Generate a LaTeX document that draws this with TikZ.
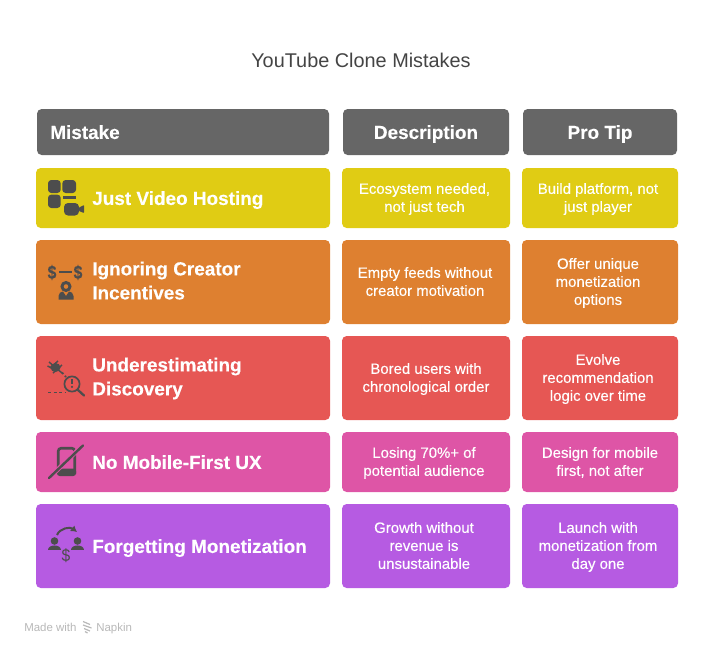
\documentclass[tikz,border=0pt]{standalone}
\usepackage{fontspec}
\setmainfont[BoldFeatures={FakeBold=0.2}]{Liberation Sans}
\newfontfamily\medfont[FakeBold=0.25]{Liberation Sans}
\usetikzlibrary{arrows.meta}
\definecolor{cHead}{HTML}{666666}
\definecolor{cYel}{HTML}{E0CC14}
\definecolor{cOra}{HTML}{DE8030}
\definecolor{cRed}{HTML}{E65754}
\definecolor{cPin}{HTML}{DE55A6}
\definecolor{cPur}{HTML}{B65BE2}
\definecolor{cIco}{HTML}{4D4D4D}
\definecolor{cFoot}{HTML}{B8B8B8}
\definecolor{cTitle}{HTML}{444444}
\def\pxu{0.75pt}
\newcommand{\cellbox}[6]{% name x0 y0 x1 y1 colour
  \node[cellshape,fill=#6,minimum width={(#4-#2)*\pxu},minimum height={(#5-#3)*\pxu}] (#1) at ({(#2+#4)/2},{(#3+#5)/2}) {};}
\newcommand{\dollar}[4]{% name x y size
  \node[text=cIco,font=\fontsize{#4}{#4}\selectfont\bfseries,inner sep=0pt] (#1) at (#2,#3) {\scalebox{.85}[1]{\$}};}
\tikzset{
  cellshape/.style={rectangle,rounded corners=3.5pt,inner sep=0pt,draw=none},
  struts/.style={execute at begin node=\strut,execute at end node=\strut,yshift=-1.6pt},
  headtext/.style={struts,text=white,font=\fontsize{14.2}{18}\selectfont\bfseries,inner sep=0pt},
  rowtitle/.style={struts,text=white,font=\fontsize{14.2}{18}\selectfont\bfseries,inner sep=0pt,anchor=west,align=left},
  celltext/.style={struts,text=white,font=\fontsize{11.2}{13.5}\selectfont\medfont,inner sep=0pt,align=center},
  icon/.style={fill=cIco,draw=none},
  iconline/.style={draw=cIco,line width=1.5pt,fill=none},
}
\begin{document}
\begin{tikzpicture}[x=0.75pt,y=-0.75pt]
\useasboundingbox (0,0) rectangle (722,654);
\node[struts,text=cTitle,font=\fontsize{14.9}{18}\selectfont,inner sep=0pt,yshift=-0.5pt] (title) at (361,60) {YouTube Clone Mistakes};
% header
\cellbox{h1}{37}{109}{329}{155}{cHead}
\cellbox{h2}{343}{109}{509}{155}{cHead}
\cellbox{h3}{523}{109}{677}{155}{cHead}
\node[headtext,anchor=west] (h1t) at (50,132) {Mistake};
\node[headtext] (h2t) at (426,132) {Description};
\node[headtext] (h3t) at (600,132) {Pro Tip};
% rows
\cellbox{a1}{36}{168}{330}{228}{cYel}
\cellbox{b1}{342}{168}{510}{228}{cYel}
\cellbox{c1}{522}{168}{678}{228}{cYel}
\cellbox{a2}{36}{240}{330}{324}{cOra}
\cellbox{b2}{342}{240}{510}{324}{cOra}
\cellbox{c2}{522}{240}{678}{324}{cOra}
\cellbox{a3}{36}{336}{330}{420}{cRed}
\cellbox{b3}{342}{336}{510}{420}{cRed}
\cellbox{c3}{522}{336}{678}{420}{cRed}
\cellbox{a4}{36}{432}{330}{492}{cPin}
\cellbox{b4}{342}{432}{510}{492}{cPin}
\cellbox{c4}{522}{432}{678}{492}{cPin}
\cellbox{a5}{36}{504}{330}{588}{cPur}
\cellbox{b5}{342}{504}{510}{588}{cPur}
\cellbox{c5}{522}{504}{678}{588}{cPur}
% titles
\node[rowtitle] (a1t) at (92,198) {Just Video Hosting};
\node[rowtitle] (a2t) at (92,282) {Ignoring Creator\\Incentives};
\node[rowtitle] (a3t) at (92,378) {Underestimating\\Discovery};
\node[rowtitle] (a4t) at (92,462) {No Mobile-First UX};
\node[rowtitle] (a5t) at (92,546) {Forgetting Monetization};
% descriptions
\node[celltext] (b1t) at (424.5,198) {Ecosystem needed,\\not just tech};
\node[celltext] (c1t) at (598,198) {Build platform, not\\just player};
\node[celltext] (b2t) at (425,282) {Empty feeds without\\creator motivation};
\node[celltext] (c2t) at (598,282) {Offer unique\\monetization\\options};
\node[celltext] (b3t) at (426,378) {Bored users with\\chronological order};
\node[celltext] (c3t) at (598,378) {Evolve\\recommendation\\logic over time};
\node[celltext] (b4t) at (424,462) {Losing 70\%+ of\\potential audience};
\node[celltext] (c4t) at (600,462) {Design for mobile\\first, not after};
\node[celltext] (b5t) at (424,546) {Growth without\\revenue is\\unsustainable};
\node[celltext] (c5t) at (598,546) {Launch with\\monetization from\\day one};
% icon 1: grid + camera
\fill[icon,rounded corners=2.5pt] (48,180) -- (60.7,180) -- (60.7,193) -- (48,193) -- cycle;
\fill[icon,rounded corners=2.5pt] (62.3,180) -- (76,180) -- (76,193) -- (62.3,193) -- cycle;
\fill[icon,rounded corners=2.5pt] (48,194.6) -- (60.7,194.6) -- (60.7,208) -- (48,208) -- cycle;
\fill[icon] (63,196) rectangle (76,199);
\fill[icon,rounded corners=3pt] (64,203) rectangle (79,215.5);
\fill[icon,rounded corners=0.5pt] (79,207.5) -- (84,205) -- (84,213) -- (79,211) -- cycle;
% icon 2: money and person
\dollar{d1}{52}{272.5}{14}
\dollar{d2}{78}{272.5}{14}
\fill[icon] (59,270.7) rectangle (72,273.3);
\draw[iconline,line width=2.2pt] (66,286.5) circle (4);
\fill[icon] (58.5,299.5) -- (58.5,296) .. controls (58.5,293) and (61,291.5) .. (63,291.5) -- (66,296) -- (69,291.5) .. controls (71,291.5) and (73.5,293) .. (73.5,296) -- (73.5,299.5) -- cycle;
% icon 3: bug + magnifier
\fill[icon] (55.5,367.5) ellipse (5 and 4.5);
\draw[iconline,line width=1.1pt] (49,362) -- (62,373) (50,368) -- (58,361) (53,373) -- (62,365) (47.5,366) -- (56,370);
\draw[iconline,line width=1.4pt,dash pattern=on 1.5pt off 1.8pt] (62,372.5) -- (66,377);
\draw[iconline,line width=1.3pt] (72,384) circle (7.6);
\draw[iconline,line width=1.7pt,line cap=round] (78,390) -- (84,395.5);
\fill[icon] (71,379) rectangle (73,384);
\fill[icon] (72,386.8) circle (1.2);
\draw[iconline,line width=1.3pt,dash pattern=on 2.2pt off 2pt] (48,392.5) -- (65,392.5);
% icon 4: crossed phone
\draw[iconline,line width=2pt,rounded corners=2pt] (58.3,474) -- (58.3,448.3) -- (74.7,448.3) -- (74.7,474);
\fill[icon,rounded corners=2pt] (57,468.5) -- (76,468.5) -- (76,476) -- (57,476) -- cycle;
\draw[draw=cPin,line width=3.4pt] (51,476) -- (81,447);
\draw[iconline,line width=1.8pt,line cap=round] (49,478) -- (83,445.5);
% icon 5: cycle of money
\draw[iconline,line width=1.5pt,-{Latex[length=4.5pt,width=5.5pt]}] (57,535) .. controls (60,528) and (70,526.5) .. (77,532);
\fill[icon] (54.5,541) circle (3.8);
\fill[icon] (77.5,541) circle (3.8);
\fill[icon] (48,550) .. controls (48,544) and (61,544) .. (61,550) -- cycle;
\fill[icon] (71,550) .. controls (71,544) and (84,544) .. (84,550) -- cycle;
\node[text=cIco,font=\fontsize{13}{13}\selectfont,inner sep=0pt] (d3) at (66,556) {\scalebox{.9}[1]{\$}};
% footer
\node[text=cFoot,font=\fontsize{8.6}{10}\selectfont,inner sep=0pt,anchor=base west] (f1) at (24,631) {Made with};
\draw[cFoot,line width=0.9pt] (83,621.5) -- (90,624.5) (83,625) -- (91.5,628) (84,628.5) -- (90,631) (85,631.5) -- (87.5,633);
\node[text=cFoot,font=\fontsize{8.6}{10}\selectfont,inner sep=0pt,anchor=base west] (f2) at (96,631) {Napkin};
\end{tikzpicture}
\end{document}
